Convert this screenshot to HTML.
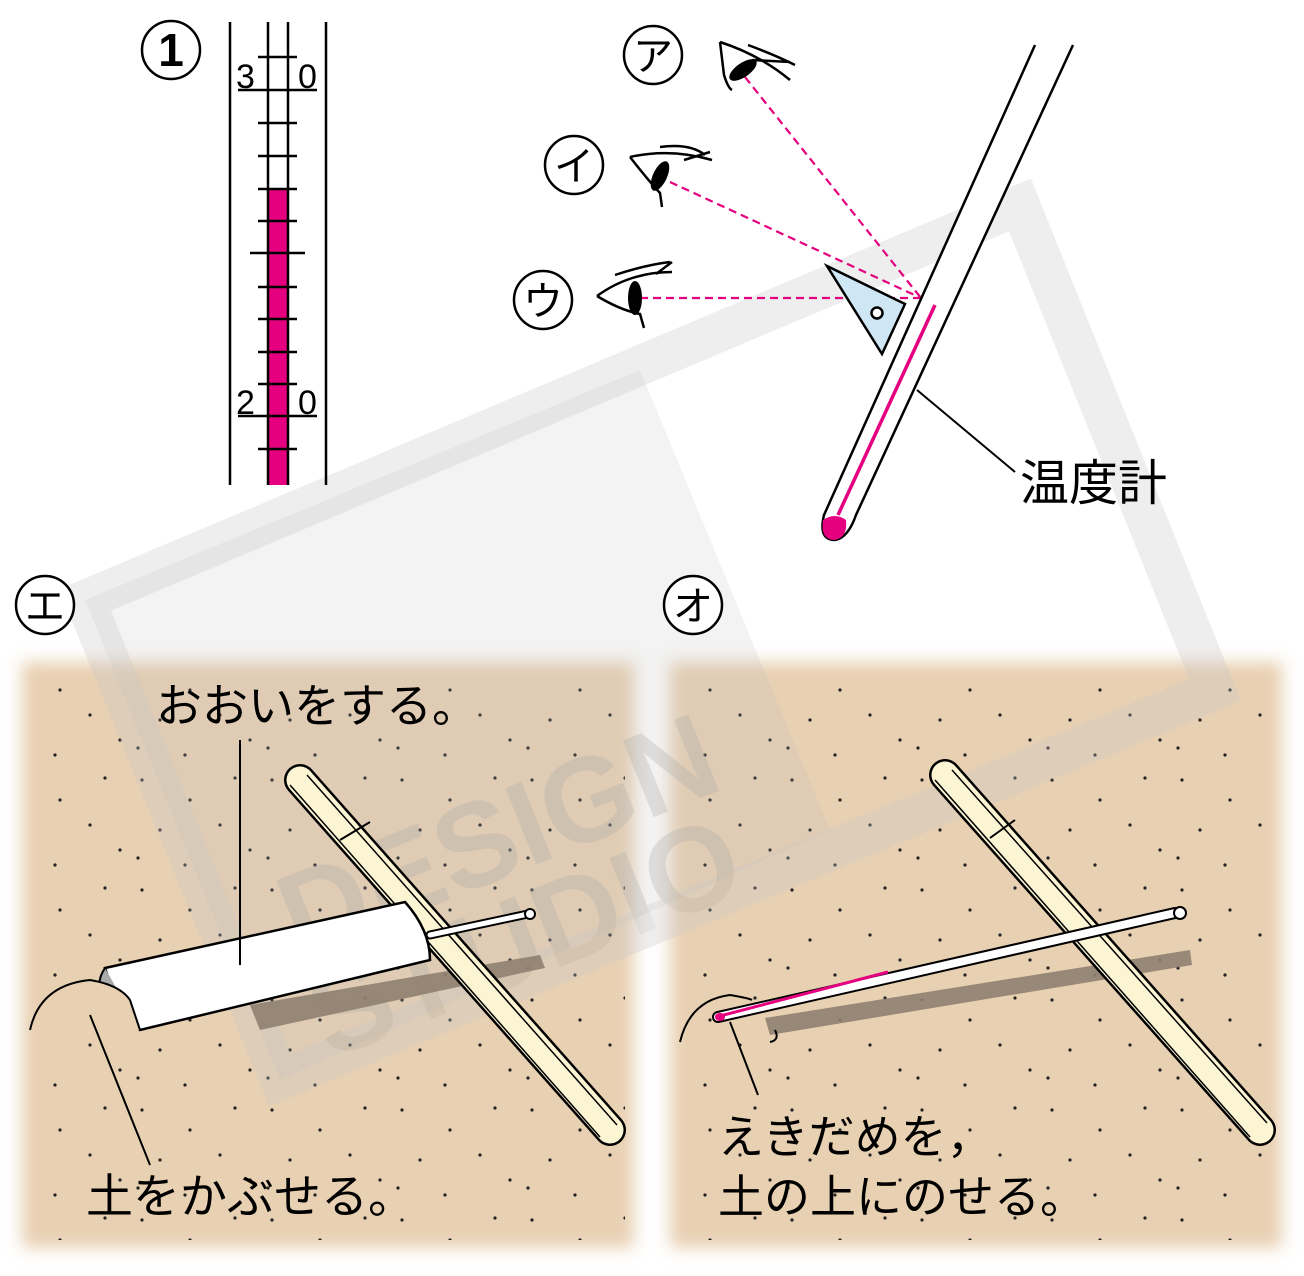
<!DOCTYPE html>
<html><head><meta charset="utf-8"><style>
html,body{margin:0;padding:0;background:#fff}
svg{display:block}
text{font-family:"Liberation Sans","Noto Sans CJK JP",sans-serif}
</style></head><body>
<svg width="1304" height="1276" viewBox="0 0 1304 1276" xmlns="http://www.w3.org/2000/svg">
<defs>
<filter id="blur" x="-5%" y="-5%" width="110%" height="110%"><feGaussianBlur stdDeviation="8"/></filter>
<pattern id="dots" width="130" height="110" patternUnits="userSpaceOnUse">
<circle cx="12" cy="10" r="1.6" fill="#222"/><circle cx="60" cy="30" r="1.6" fill="#222"/><circle cx="105" cy="8" r="1.6" fill="#222"/>
<circle cx="30" cy="60" r="1.6" fill="#222"/><circle cx="90" cy="55" r="1.6" fill="#222"/><circle cx="120" cy="80" r="1.6" fill="#222"/>
<circle cx="55" cy="95" r="1.6" fill="#222"/><circle cx="8" cy="88" r="1.6" fill="#222"/>
</pattern>
</defs>

<rect x="22" y="662" width="612" height="586" fill="#e8d0b2" filter="url(#blur)"/>
<rect x="670" y="662" width="612" height="586" fill="#e8d0b2" filter="url(#blur)"/>
<rect x="35" y="675" width="590" height="565" fill="url(#dots)"/>
<rect x="682" y="675" width="590" height="565" fill="url(#dots)"/>

<!-- watermark -->
<polygon points="85,600 640,370 830,830 280,1080" fill="#bbb" opacity="0.18"/>
<g opacity="0.3">
<polygon points="85,600 1020,205 1215,690 280,1080" fill="none" stroke="#c8c8c8" stroke-width="40"/>
<text x="0" y="0" transform="translate(300,960) rotate(-22)" font-size="120" font-weight="bold" fill="#aaa">DESIGN</text>
<text x="0" y="0" transform="translate(330,1060) rotate(-22)" font-size="120" font-weight="bold" fill="#aaa">STUDIO</text>
</g>

<circle cx="171" cy="50" r="29" fill="#fff" stroke="#000" stroke-width="2.5"/>
<text x="171" y="66" font-size="46" text-anchor="middle" font-family="Liberation Serif,serif" font-weight="bold">1</text>
<rect x="268" y="190" width="20" height="295" fill="#e4007f"/>
<g stroke="#000" stroke-width="2.5">
<line x1="230" y1="22" x2="230" y2="485"/><line x1="268" y1="22" x2="268" y2="485"/>
<line x1="288" y1="22" x2="288" y2="485"/><line x1="326" y1="22" x2="326" y2="485"/>
<line x1="258" y1="57" x2="297" y2="57"/>
<line x1="238" y1="90" x2="317" y2="90"/>
<line x1="258" y1="123" x2="297" y2="123"/><line x1="258" y1="156" x2="297" y2="156"/>
<line x1="258" y1="189" x2="297" y2="189"/><line x1="258" y1="221" x2="297" y2="221"/>
<line x1="250" y1="253" x2="305" y2="253"/>
<line x1="258" y1="287" x2="297" y2="287"/><line x1="258" y1="319" x2="297" y2="319"/>
<line x1="258" y1="352" x2="297" y2="352"/><line x1="258" y1="384" x2="297" y2="384"/>
<line x1="238" y1="416" x2="317" y2="416"/><line x1="258" y1="449" x2="297" y2="449"/>
</g>
<text x="236" y="88" font-size="34">3</text><text x="298" y="88" font-size="34">0</text>
<text x="236" y="414" font-size="34">2</text><text x="298" y="414" font-size="34">0</text>

<g fill="#fff" stroke="#000" stroke-width="2.5">
<circle cx="653" cy="55" r="29"/><circle cx="574" cy="165" r="29"/><circle cx="543" cy="300" r="29"/>
<circle cx="45" cy="605" r="29"/><circle cx="693" cy="605" r="29"/>
</g>
<g font-size="40" text-anchor="middle">
<text x="653" y="70">ア</text><text x="574" y="180">イ</text><text x="543" y="315">ウ</text>
<text x="45" y="620">エ</text><text x="693" y="620">オ</text>
</g>

<g stroke="#e4007f" stroke-width="2.2" stroke-dasharray="8,5" fill="none">
<line x1="745" y1="77" x2="921" y2="298"/>
<line x1="670" y1="182" x2="921" y2="298"/>
<line x1="640" y1="298" x2="921" y2="298"/>
</g>
<g stroke="#000" stroke-width="2.5" fill="none">
<path d="M720,42 L724,75 Q728,88 732,90 M720,42 Q760,55 790,80"/>
<path d="M748,45 Q775,55 795,65 M752,60 L790,62"/>
<path d="M630,157 Q648,180 660,193 L662,207 M630,157 Q670,148 712,160"/>
<path d="M660,147 Q690,143 705,155 M684,160 L710,152"/>
<path d="M597,296 Q630,272 672,272 M597,296 Q620,310 640,314 L644,328"/>
<path d="M615,275 Q645,265 670,262 M656,274 L672,262"/>
</g>
<g fill="#000">
<ellipse cx="743" cy="70" rx="16" ry="7" transform="rotate(-35 743 70)"/>
<ellipse cx="660" cy="176" rx="16" ry="7" transform="rotate(-65 660 176)"/>
<ellipse cx="635" cy="298" rx="7" ry="17"/>
</g>

<polygon points="827,266 905,304 882,354" fill="#cfe6f4" stroke="#000" stroke-width="2.5"/>
<circle cx="877" cy="313" r="5.5" fill="#fff" stroke="#000" stroke-width="2.5"/>

<path d="M1035,45 L824,515 Q818,540 835,540 Q848,538 856,515 L1073,45" fill="#fff" stroke="#000" stroke-width="2.5"/>
<line x1="935" y1="305" x2="838" y2="515" stroke="#e4007f" stroke-width="3.5"/>
<path d="M823,520 Q820,540 835,540 Q848,537 846,520 Q835,512 823,520Z" fill="#e4007f"/>
<line x1="917" y1="390" x2="1015" y2="472" stroke="#000" stroke-width="2"/>
<text x="1020" y="500" font-size="49">温度計</text>

<g>
<path d="M250,1005 L540,955 L545,968 L260,1030Z" fill="#8f7f70" opacity="0.9"/>
<line x1="300" y1="780" x2="610" y2="1130" stroke="#000" stroke-width="32" stroke-linecap="round"/>
<line x1="300" y1="780" x2="610" y2="1130" stroke="#fbf5d4" stroke-width="27" stroke-linecap="round"/>
<line x1="290" y1="785" x2="600" y2="1137" stroke="#000" stroke-width="1.5"/>
<line x1="307" y1="775" x2="617" y2="1125" stroke="#000" stroke-width="1.5"/>
<line x1="340" y1="840" x2="370" y2="822" stroke="#000" stroke-width="2"/>
<path d="M430,935 L528,914" stroke="#000" stroke-width="9" stroke-linecap="round"/>
<path d="M430,935 L528,914" stroke="#fff" stroke-width="5" stroke-linecap="round"/>
<circle cx="530" cy="914" r="5" fill="#fff" stroke="#000" stroke-width="2"/>
<path d="M105,968 L405,902 Q430,930 430,960 L140,1030 Q115,1000 105,968Z" fill="#fff" stroke="#000" stroke-width="2.5"/>
<path d="M105,968 Q90,990 115,1010 L140,1030" fill="#aaa" stroke="#000" stroke-width="2"/>
<path d="M30,1030 Q40,985 90,980 Q120,985 130,1000 L140,1030" fill="#e8d0b2" stroke="#000" stroke-width="2"/>
<line x1="240" y1="740" x2="240" y2="965" stroke="#000" stroke-width="2"/>
<line x1="90" y1="1015" x2="150" y2="1165" stroke="#000" stroke-width="2"/>
<text x="156" y="722" font-size="46">おおいをする。</text>
<text x="86" y="1213" font-size="47">土をかぶせる。</text>
</g>

<g>
<path d="M765,1018 L1190,950 L1192,965 L770,1035Z" fill="#8f7f70" opacity="0.9"/>
<line x1="945" y1="775" x2="1260" y2="1130" stroke="#000" stroke-width="32" stroke-linecap="round"/>
<line x1="945" y1="775" x2="1260" y2="1130" stroke="#fbf5d4" stroke-width="27" stroke-linecap="round"/>
<line x1="935" y1="780" x2="1250" y2="1137" stroke="#000" stroke-width="1.5"/>
<line x1="952" y1="770" x2="1267" y2="1123" stroke="#000" stroke-width="1.5"/>
<line x1="990" y1="838" x2="1015" y2="820" stroke="#000" stroke-width="2"/>
<path d="M718,1017 L1175,913" stroke="#000" stroke-width="12" stroke-linecap="round"/>
<path d="M718,1017 L1175,913" stroke="#fff" stroke-width="8" stroke-linecap="round"/>
<circle cx="1180" cy="913" r="6" fill="#fff" stroke="#000" stroke-width="2"/>
<line x1="720" y1="1016" x2="888" y2="972" stroke="#e4007f" stroke-width="3"/>
<ellipse cx="720" cy="1017" rx="5" ry="4" fill="#e4007f"/>
<path d="M680,1042 Q690,1000 730,995 Q748,998 752,1000" fill="none" stroke="#000" stroke-width="2"/>
<path d="M775,1030 Q780,1040 770,1042" fill="none" stroke="#000" stroke-width="2"/>
<line x1="730" y1="1022" x2="758" y2="1095" stroke="#000" stroke-width="2"/>
<text x="718" y="1153" font-size="46">えきだめを，</text>
<text x="718" y="1213" font-size="46">土の上にのせる。</text>
</g>
</svg>
</body></html>
